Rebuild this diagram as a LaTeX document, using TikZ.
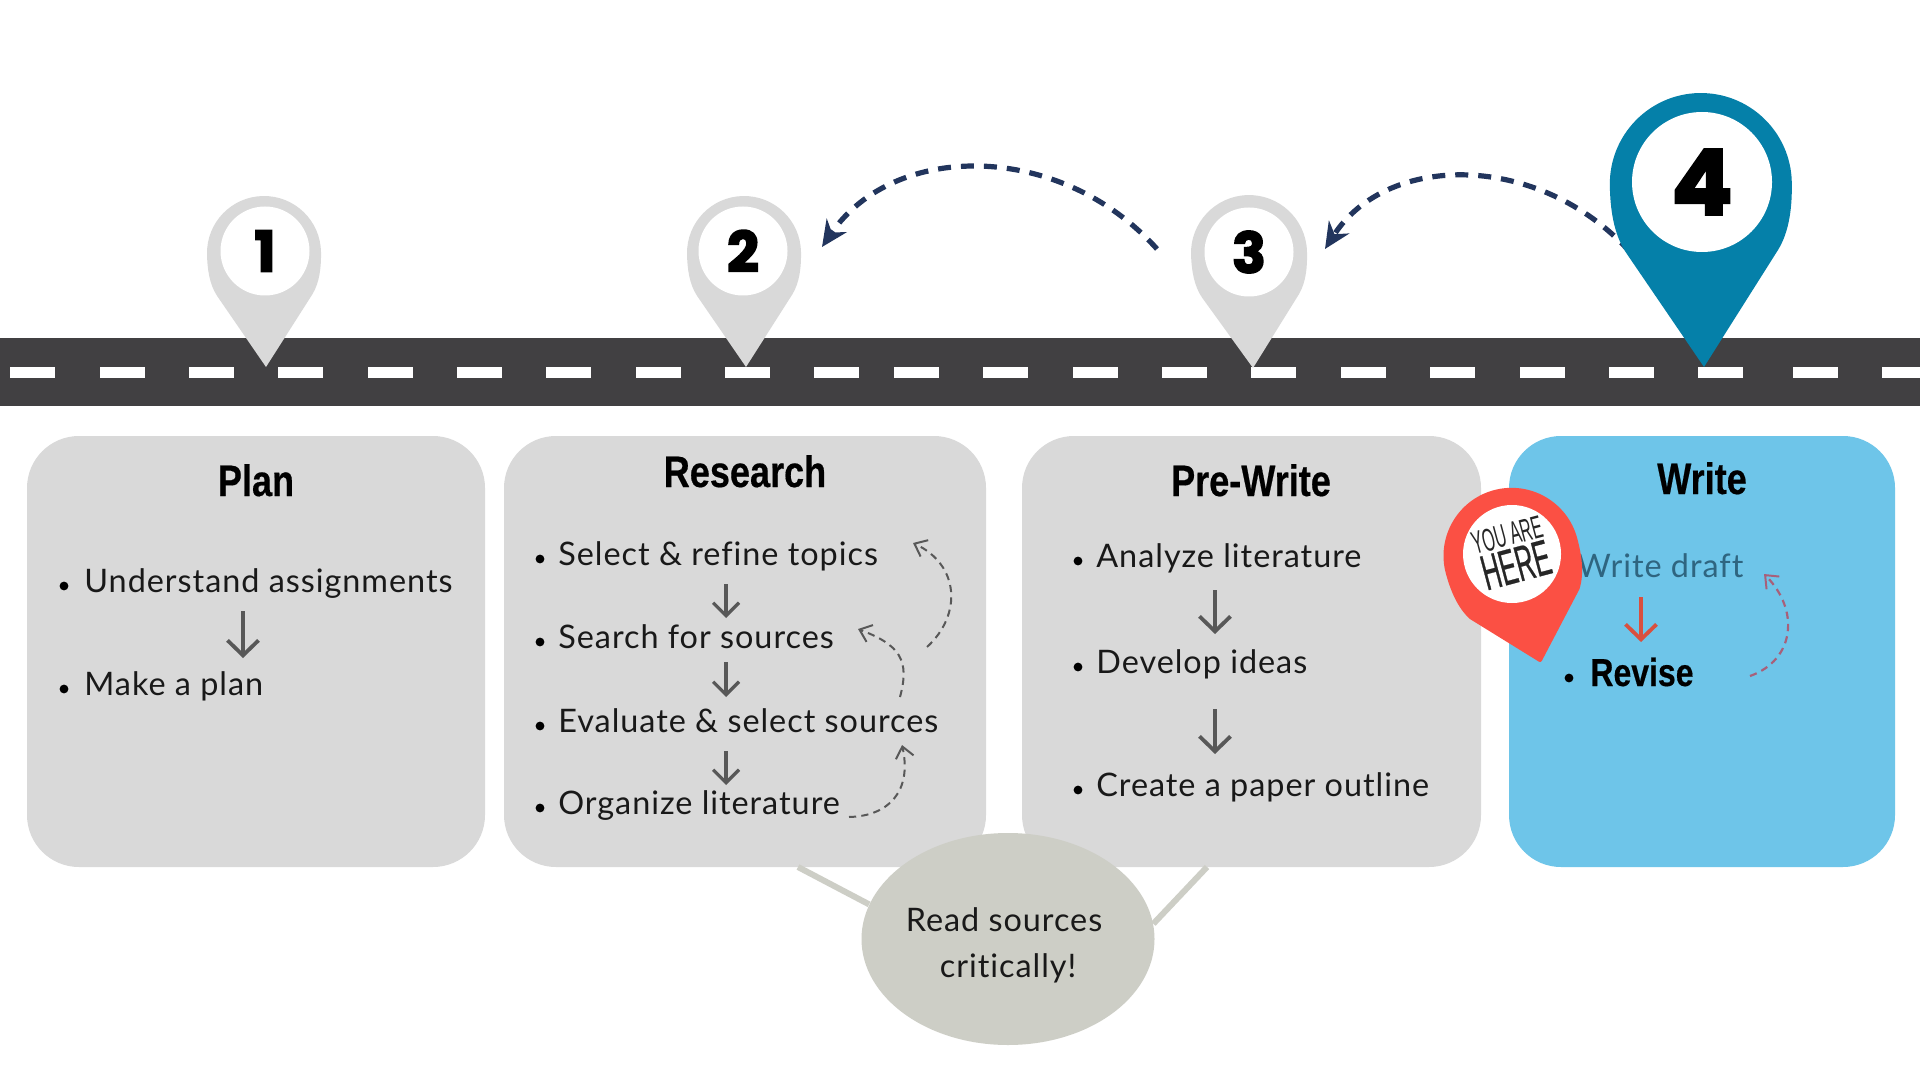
\documentclass[tikz,border=0pt]{standalone}
\usepackage{fontspec}
\usetikzlibrary{arrows.meta,shapes.geometric}
\setmainfont[LetterSpace=3,Ligatures=NoCommon]{Lato}
\newfontfamily\titlefont[FakeStretch=0.82,FakeBold=0.4]{Liberation Sans Bold}
\newfontfamily\numfont[FakeBold=3]{Poppins Bold}
\newfontfamily\tagfont[FakeStretch=0.5]{Liberation Sans}
\newfontfamily\tagboldfont[FakeStretch=0.5,FakeBold=0.5]{Liberation Sans}
\definecolor{roadgrey}{HTML}{414042}
\definecolor{panelgrey}{HTML}{D9D9D9}
\definecolor{panelblue}{HTML}{6EC5E9}
\definecolor{pinteal}{HTML}{0580A9}
\definecolor{pinred}{HTML}{FB5044}
\definecolor{bubble}{HTML}{CDCEC6}
\definecolor{navy}{HTML}{22355D}
\definecolor{stepgrey}{HTML}{585858}
\definecolor{stepred}{HTML}{D9503F}
\definecolor{loopred}{HTML}{A8607A}
\definecolor{fadedtext}{HTML}{2F6580}
% Map pin: #1 tip coordinate, #2 tip-to-centre distance (pt), #3 head radius (pt), #4 tilt, #5 style.
% Straight sides leave the tip and blend into the round head through a short curve.
\newcommand\pinshape[5]{%
  \filldraw[#5,shift={(#1)},rotate=#4,x=1pt,y=1pt]
    (0,0) -- ({-.835*#3},{#2-.74*#3})
    .. controls ({-.97*#3},{#2-.53*#3}) and ({-#3},{#2-.25*#3}) .. ({-#3},#2)
    arc[start angle=180,end angle=0,radius=#3 pt]
    .. controls ({#3},{#2-.25*#3}) and ({.97*#3},{#2-.53*#3}) .. ({.835*#3},{#2-.74*#3})
    -- cycle;}
\tikzset{
  panel/.style={rounded corners=26pt},
  heading/.style={font=\titlefont\fontsize{22}{26}\selectfont,anchor=base,inner sep=0pt,text=black},
  item/.style={font=\fontsize{16.2}{20}\selectfont,anchor=base west,inner sep=0pt,text=black!90},
  bulletmark/.style={circle,fill=black,inner sep=0pt,minimum size=4.4pt},
  numeral/.style={circle,fill=white,inner sep=0pt,font=\numfont},
  stepline/.style={stepgrey,line width=1.6pt,-{Straight Barb[length=6.5pt,width=13pt,line width=1.6pt]}},
  bigstep/.style={stepgrey,line width=1.9pt,-{Straight Barb[length=7.5pt,width=15.5pt,line width=1.9pt]}},
  loopline/.style={stepgrey,line width=1pt,dash pattern=on 3.6pt off 2.6pt,-{Straight Barb[length=5.5pt,width=9pt,line width=1pt]}},
  jump/.style={navy,line width=2.6pt,dash pattern=on 6.5pt off 5pt,-{Stealth[length=13pt,width=12pt]}},
  tether/.style={bubble,line width=3pt},
  plainpin/.style={draw=none,fill=#1},
  softpin/.style={draw=#1,fill=#1,line width=2pt,line join=round},
}
\begin{document}
\begin{tikzpicture}[x=0.5pt,y=-0.5pt]
\useasboundingbox (0,0) rectangle (1920,1080);
\fill[white] (0,0) rectangle (1920,1080);

% road with its centre line
\fill[roadgrey] (0,338) rectangle (1920,406);
\foreach \dashx in {10,100,189,278,368,457,546,636,725,814,894,983,1073,1162,1251,1341,1430,1520,1609,1698,1793,1882}
  \fill[white] (\dashx,367) rectangle (\dashx+45,378);

% backward jumps between stages, passing behind the pins
\coordinate (jumpDs) at (1630,252);
\coordinate (jumpDe) at (1325,249);
\coordinate (jumpCs) at (1157,249);
\coordinate (jumpCe) at (822,247);
\draw[jump] (jumpDs) .. controls (1540,152) and (1387,152) .. (jumpDe);
\draw[jump] (jumpCs) .. controls (1060,141) and (894,141) .. (jumpCe);

% map pins along the road
\coordinate (tipA) at (266,367);
\coordinate (tipB) at (746,367);
\coordinate (tipC) at (1253,368);
\coordinate (tipD) at (1704,367);
\pinshape{tipA}{57}{28.5}{1}{plainpin=panelgrey}
\pinshape{tipB}{57}{28.5}{1}{plainpin=panelgrey}
\pinshape{tipC}{57.5}{29}{2}{plainpin=panelgrey}
\pinshape{tipD}{91.5}{45.5}{1}{plainpin=pinteal}
\node[numeral,minimum size=44.5pt,font=\numfont\fontsize{28}{28}\selectfont] (pinA) at (265,251) {1};
\node[numeral,minimum size=44.5pt,font=\numfont\fontsize{28}{28}\selectfont] (pinB) at (743,251) {2};
\node[numeral,minimum size=44.5pt,font=\numfont\fontsize{28}{28}\selectfont] (pinC) at (1249,252) {3};
\node[numeral,minimum size=70pt,font=\numfont\fontsize{45}{45}\selectfont] (pinD) at (1702,182) {4};

% stage panels, discussion bubble and its tethers
\fill[panelgrey,panel] (27,436) rectangle (485,867);
\fill[panelgrey,panel] (504,436) rectangle (986,867);
\fill[panelgrey,panel] (1022,436) rectangle (1481,867);
\fill[panelblue,panel] (1509,436) rectangle (1895,867);
\coordinate (tetherL) at (798,867);
\coordinate (tetherR) at (1207,867);
\node[fill=bubble,shape=ellipse,minimum width=146.5pt,minimum height=106pt,inner sep=0pt] (bubblenode) at (1008,939) {};
\draw[tether] (tetherL) -- (bubblenode.166);
\draw[tether] (tetherR) -- (bubblenode.6);
\node[item,anchor=base] (readA) at (1004,931) {Read sources};
\node[item,anchor=base] (readB) at (1008,977) {critically!};

% stage headings
\node[heading] (hPlan) at (256,496) {Plan};
\node[heading] (hResearch) at (745,487) {Research};
\node[heading] (hPre) at (1251,496) {Pre-Write};
\node[heading] (hWrite) at (1702,494) {Write};

% Plan
\node[item] (understand) at (84,592) {Understand assignments};
\node[item] (makeplan) at (84,695) {Make a plan};
\node[bulletmark] at (64,586) {};
\node[bulletmark] at (64,689) {};
\coordinate (pa) at (243,611); \coordinate (pb) at (243,658);
\draw[bigstep] (pa) -- (pb);

% Research
\node[item] (select) at (558,565) {Select \& refine topics};
\node[item] (search) at (558,648) {Search for sources};
\node[item] (evaluate) at (558,732) {Evaluate \& select sources};
\node[item] (organize) at (558,814) {Organize literature};
\foreach \by in {559,642,726,808} \node[bulletmark] at (540,\by) {};
\coordinate (ra) at (726,584); \coordinate (rb) at (726,618);
\coordinate (rc) at (726,662); \coordinate (rd) at (726,697);
\coordinate (re) at (726,751); \coordinate (rf) at (726,785);
\draw[stepline] (ra) -- (rb);
\draw[stepline] (rc) -- (rd);
\draw[stepline] (re) -- (rf);
\coordinate (loopAs) at (927,647); \coordinate (loopAe) at (913,543);
\coordinate (loopBs) at (900,697); \coordinate (loopBe) at (858,629);
\coordinate (loopCs) at (849,817); \coordinate (loopCe) at (902,745);
\draw[loopline] (loopAs) .. controls (962,615) and (960,565) .. (loopAe);
\draw[loopline] (loopBs) .. controls (910,660) and (900,645) .. (loopBe);
\draw[loopline] (loopCs) .. controls (890,816) and (912,790) .. (loopCe);

% Pre-Write
\node[item] (analyze) at (1096,567) {Analyze literature};
\node[item] (develop) at (1096,673) {Develop ideas};
\node[item] (outline) at (1096,796) {Create a paper outline};
\foreach \by in {561,667,790} \node[bulletmark] at (1078,\by) {};
\coordinate (wa) at (1215,590); \coordinate (wb) at (1215,634);
\coordinate (wc) at (1215,709); \coordinate (wd) at (1215,754);
\draw[bigstep] (wa) -- (wb);
\draw[bigstep] (wc) -- (wd);

% Write
\node[item,text=fadedtext] (draft) at (1577,577) {Write draft};
\node[heading,anchor=base west,font=\titlefont\fontsize{19.5}{23}\selectfont] (revise) at (1590,686) {Revise};
\node[bulletmark] at (1569,678) {};
\coordinate (wra) at (1641,597); \coordinate (wrb) at (1641,642);
\draw[bigstep,stepred] (wra) -- (wrb);
\coordinate (loopWs) at (1750,676); \coordinate (loopWe) at (1764,574);
\draw[loopline,loopred,line width=1.1pt] (loopWs) .. controls (1795,660) and (1800,610) .. (loopWe);

% location marker
\coordinate (tipR) at (1540,660);
\pinshape{tipR}{54}{33}{15.3}{softpin=pinred}
\node[circle,fill=white,inner sep=0pt,minimum size=49pt] (here) at (1512,554) {};
\node[rotate=15,inner sep=0pt,text=black!85,font=\tagfont\fontsize{16}{16}\selectfont] (tagA) at (1507,535) {YOU ARE};
\node[rotate=15,inner sep=0pt,text=black!85,font=\tagboldfont\fontsize{25}{25}\selectfont] (tagB) at (1516,565) {HERE};
\end{tikzpicture}
\end{document}
